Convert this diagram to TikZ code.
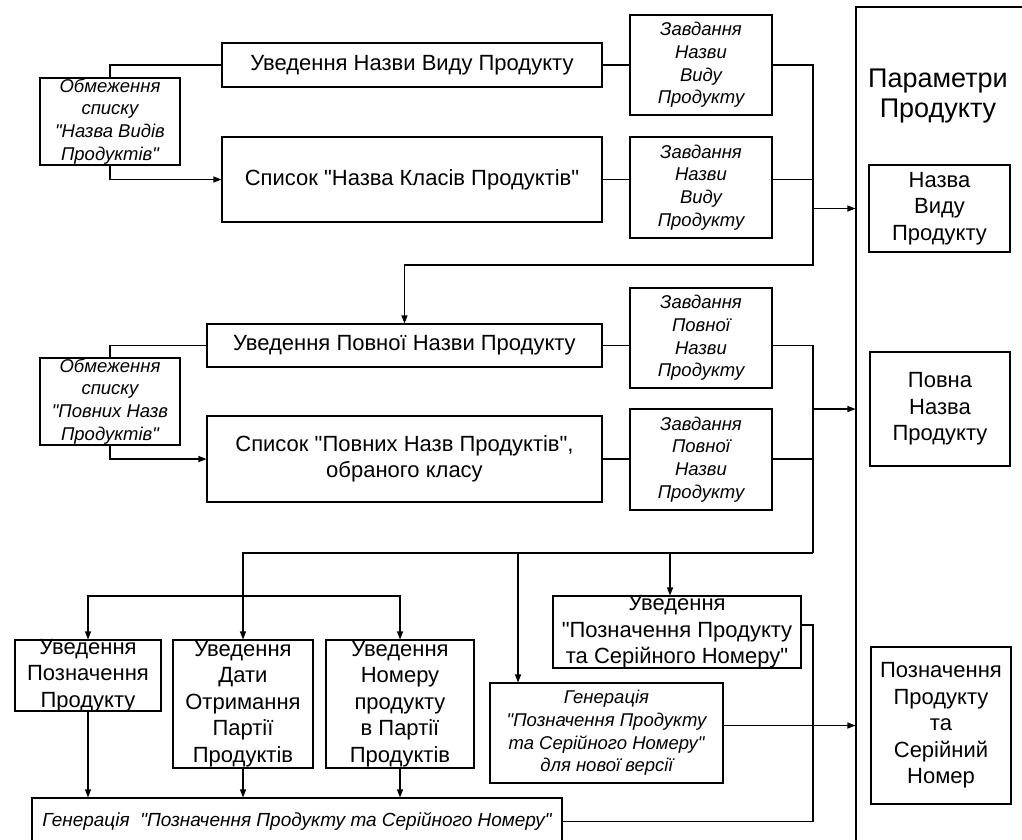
\documentclass[tikz,border=0pt]{standalone}
\usepackage{fontspec}
\setmainfont{Liberation Sans}[Ligatures=TeXOff]
\usepackage{tikz}
\usetikzlibrary{positioning, arrows.meta}

\begin{document}
\begin{tikzpicture}[
  x=1pt, y=-1pt,
  line width=1.1pt,
  box/.style={draw, rectangle, align=center, inner xsep=-8pt, inner ysep=-6pt,
              font=\fontsize{22}{26.5}\selectfont},
  task/.style={box, font=\fontsize{18.5}{22.8}\selectfont\itshape},
  ar/.style={-{Triangle[length=8pt, width=6pt]}},
  ln/.style={-},
]
\useasboundingbox (0,0) rectangle (1022,839);
\clip (0,0) rectangle (1022,839);

% product parameters frame
\node[draw, minimum width=300, minimum height=900] (param) at (1006,457) {};
\node[font=\fontsize{27}{30}\selectfont, align=center] (paramT) at (938,96) {Параметри\\Продукту};
\node[box, minimum width=141, minimum height=87]  (nazvaVydu) at (939.5,208.5) {Назва\\Виду\\Продукту};
\node[box, minimum width=140, minimum height=114] (povna)     at (940,409)     {Повна\\Назва\\Продукту};
\node[box, minimum width=140, minimum height=157] (pozSer)    at (941,725.5)   {Позначення\\Продукту\\та\\Серійний\\Номер};

% product type name
\node[box,  minimum width=380, minimum height=44]  (uvNazvy)  at (412,65)    {Уведення Назви Виду Продукту};
\node[box,  minimum width=380, minimum height=85]  (spKlasiv) at (412,179.5) {Список "Назва Класів Продуктів"};
\node[task, minimum width=140, minimum height=87]  (obm1)     at (110,121.5) {Обмеження\\списку\\"Назва Видів\\Продуктів"};
\node[task, minimum width=142, minimum height=100] (zav1)     at (701,65)    {Завдання\\Назви\\Виду\\Продукту};
\node[task, minimum width=142, minimum height=101] (zav2)     at (701,187.5) {Завдання\\Назви\\Виду\\Продукту};

% full product name
\node[box,  minimum width=395, minimum height=43]  (uvPovnoi) at (404.5,345.5) {Уведення Повної Назви Продукту};
\node[box,  minimum width=395, minimum height=86]  (spPovnyh) at (404.5,459)   {Список "Повних Назв Продуктів",\\обраного класу};
\node[task, minimum width=140, minimum height=87]  (obm2)     at (110,401.5)   {Обмеження\\списку\\"Повних Назв\\Продуктів"};
\node[task, minimum width=142, minimum height=100] (zav3)     at (701,338)     {Завдання\\Повної\\Назви\\Продукту};
\node[task, minimum width=142, minimum height=101] (zav4)     at (701,459.5)   {Завдання\\Повної\\Назви\\Продукту};

% designation and serial number
\node[box,  minimum width=146, minimum height=71]  (uvPozn)   at (88,675.5)  {Уведення\\Позначення\\Продукту};
\node[box,  minimum width=140, minimum height=128] (uvDaty)   at (243,704)   {Уведення\\Дати\\Отримання\\Партії\\Продуктів};
\node[box,  minimum width=148, minimum height=128] (uvNomeru) at (400,704)   {Уведення\\Номеру\\продукту\\в Партії\\Продуктів};
\node[box,  minimum width=248, minimum height=72]  (uvPozSer) at (677,632)   {Уведення\\"Позначення Продукту\\та Серійного Номеру"};
\node[task, minimum width=233, minimum height=100] (genNova)  at (606.5,733) {Генерація\\"Позначення Продукту\\та Серійного Номеру"\\для нової версії};
\node[task, minimum width=530, minimum height=47, font=\fontsize{19}{23}\selectfont\itshape]
  (genZag) at (297,821.5) {Генерація~~"Позначення Продукту та Серійного Номеру"};

\coordinate (bus1) at (813,265);
\coordinate (bus2) at (813,553);
\coordinate (b3) at (518,553);
\coordinate (b4) at (670,553);
\coordinate (b5) at (243,596);
\coordinate (b6) at (813,625);

\draw[ln] (obm1.north) |- (uvNazvy.west);
\draw[ar] (obm1.south) |- (spKlasiv.west);
\draw[ln] (uvNazvy) -- (zav1);
\draw[ln] (spKlasiv) -- (spKlasiv -| zav2.west);
\draw[ar] (zav1.east) -| (bus1) -| (uvPovnoi.north);
\draw[ln] (zav2.east |- spKlasiv) -- (bus1 |- spKlasiv);
\draw[ar] (bus1 |- nazvaVydu) -- (param.west |- nazvaVydu);

\draw[ln] (obm2.north) |- (uvPovnoi.west);
\draw[ar] (obm2.south) |- (spPovnyh.west);
\draw[ln] (uvPovnoi) -- (uvPovnoi -| zav3.west);
\draw[ln] (spPovnyh) -- (spPovnyh -| zav4.west);
\draw[ln] (zav3.east |- uvPovnoi) -| (bus2);
\draw[ln] (zav4.east |- spPovnyh) -- (bus2 |- spPovnyh);
\draw[ar] (bus2 |- povna) -- (param.west |- povna);

\draw[ar] (bus2) -| (uvDaty.north);
\draw[ar] (b3) -- (b3 |- genNova.north);
\draw[ar] (b4) -- (b4 |- uvPozSer.north);
\draw[ar] (b5) -| (uvPozn.north);
\draw[ar] (b5) -| (uvNomeru.north);
\draw[ar] (uvPozn) -- (uvPozn |- genZag.north);
\draw[ar] (uvDaty) -- (uvDaty |- genZag.north);
\draw[ar] (uvNomeru) -- (uvNomeru |- genZag.north);
\draw[ln] (uvPozSer.east |- b6) -- (b6) |- (genZag.east);
\draw[ar] (genNova.east |- pozSer) -- (param.west |- pozSer);
\end{tikzpicture}
\end{document}
